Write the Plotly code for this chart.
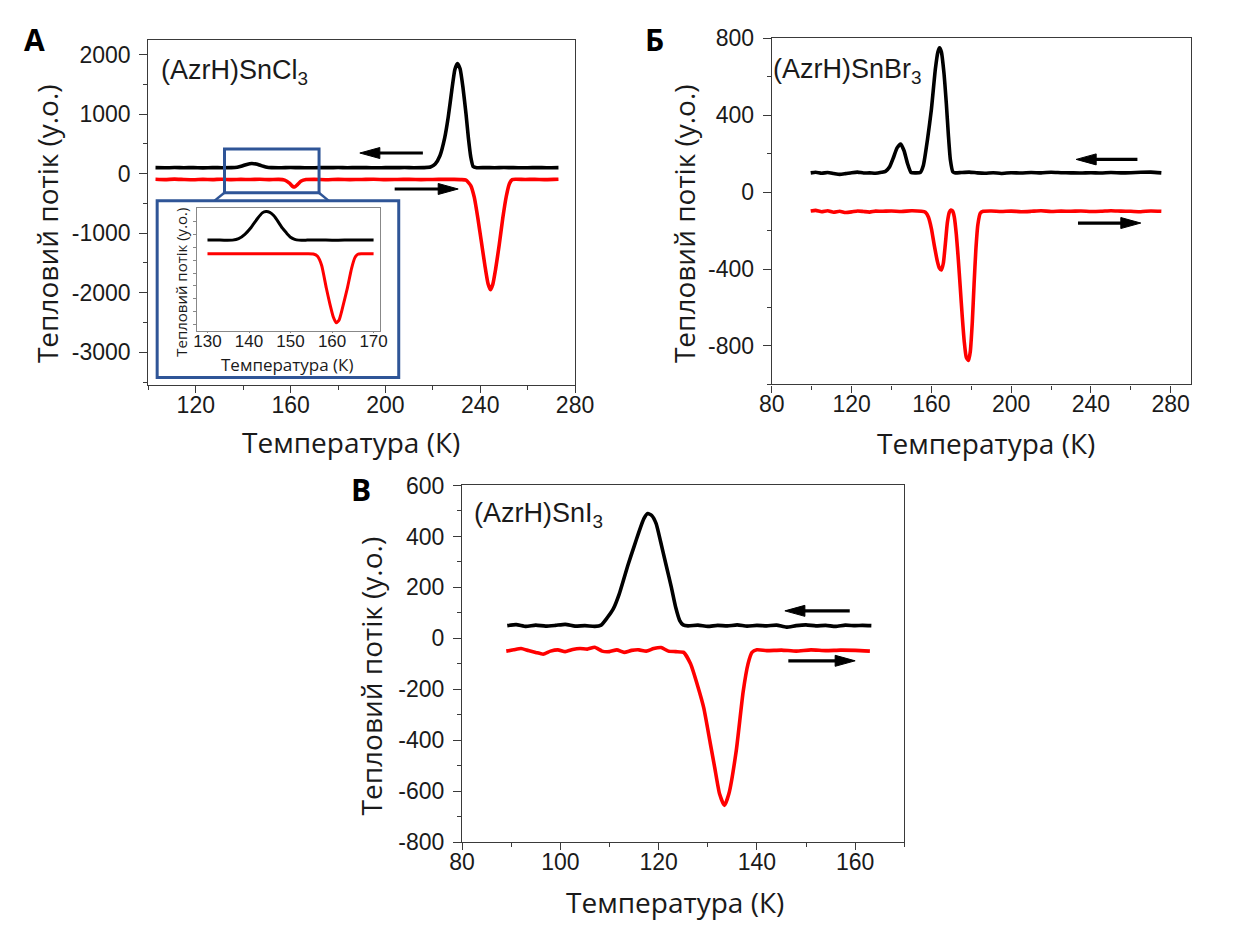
import plotly.graph_objects as go

W, H = 1235, 934

# ---------------- data ----------------
# Panel A: (AzrH)SnCl3
A_T_cool = [103,107,111,115,119,123,127,131,135,137.5,139.5,141.5,143.6,145.5,147.5,149.5,152,156,160,164,168,172,176,180,184,188,192,196,200,204,208,212,216,219,221,223,225,226.5,228,229.3,230.4,231.5,232.7,234,235,236,237,238.5,242,246,250,254,258,262,266,270,273]
A_Q_cool = [100,98,102,99,101,97,101,99,100,108,128,155,170,160,135,113,101,99,102,100,98,101,100,102,99,101,100,98,101,100,102,99,101,110,160,300,600,950,1400,1750,1850,1760,1450,1000,600,280,120,100,101,99,102,100,98,101,100,99,100]
A_T_heat = [103,107,111,115,119,123,127,131,135,139,143,147,151,155,157.5,159.5,160.7,161.7,163,164.5,166.5,170,175,180,185,190,195,200,205,210,215,220,225,229,232,234,236,237.5,239,240.5,242,243.3,244.3,245.3,246.5,248,249.5,251,252.3,253.5,255,259,263,267,271,273]
A_Q_heat = [-95,-100,-92,-98,-103,-96,-100,-94,-101,-97,-99,-95,-100,-97,-110,-160,-210,-225,-180,-125,-100,-97,-102,-96,-100,-98,-95,-101,-99,-96,-100,-98,-95,-97,-100,-110,-200,-400,-750,-1150,-1550,-1850,-1950,-1860,-1600,-1200,-750,-380,-170,-100,-95,-98,-96,-100,-97,-95]

# Inset of panel A (arbitrary units)
I_T_cool = [130,132,134,136,137.5,139,140.5,142,143.2,144.1,145,146,147,148,149,150,151,152,154,157,160,163,166,170]
I_Q_cool = [100,101,99,100,115,160,230,320,380,393,385,350,290,225,175,130,108,100,100,101,99,100,101,100]
I_T_heat = [130,133,136,139,142,145,148,151,154,155.5,156.5,157.5,158.6,159.5,160.3,161,161.7,162.5,163.7,164.7,165.5,166.2,167,170]
I_Q_heat = [-40,-40,-41,-40,-39,-40,-40,-41,-40,-42,-65,-160,-390,-560,-690,-750,-720,-600,-390,-190,-80,-45,-40,-40]

# Panel B: (AzrH)SnBr3
B_T_cool = [99.5,102,105,108,111,114,117,120,123,126,129,132,135,137,139,141,142.8,144.6,146.3,148,149.8,152,154.4,156,158,160,162,163.3,164.1,165,166.3,167.5,168.5,169.5,170.8,172,175,179,183,187,191,195,200,205,210,215,220,225,230,235,240,245,250,255,260,265,270,275.3]
B_Q_cool = [100,103,98,102,97,92,96,101,104,99,100,98,103,108,130,180,230,250,215,150,102,100,102,140,270,430,640,730,750,730,620,460,300,170,105,100,102,104,100,98,101,97,101,99,102,100,103,101,100,99,101,99,102,100,101,103,104,100]
B_T_heat = [99.5,102,105,108,111,114,117,120,123,126,129,132,135,140,145,150,155,157,158.5,160,161.5,163,164,165,166,167,168,169,169.8,170.6,171.5,172.5,173.5,174.5,175.5,176.5,177.5,178.6,179.5,180.5,181.4,182.3,183.3,184.5,186,190,195,200,205,210,215,220,225,230,235,240,245,250,255,260,265,270,275.3]
B_Q_heat = [-98,-95,-102,-97,-105,-100,-106,-103,-98,-101,-104,-99,-100,-98,-101,-97,-100,-105,-130,-190,-280,-360,-395,-405,-370,-270,-160,-105,-93,-98,-130,-220,-350,-500,-650,-780,-860,-876,-830,-680,-480,-300,-170,-110,-100,-98,-101,-99,-102,-100,-97,-101,-99,-100,-98,-101,-100,-97,-99,-100,-102,-98,-100]

# Panel C: (AzrH)SnI3
C_T_cool = [89.2,91,93,95,97,99,101,103,105,107,108.3,109.5,110.8,112,113.8,115,116,117,117.8,118.6,119.5,120.4,121.5,122.6,123.5,124.3,125,126,128,130,132,134,136,138,140,142,144,146,148,150,152,154,156,158,160,161.5,163.3]
C_Q_cool = [50,54,47,52,48,51,55,48,50,47,52,80,117,175,290,360,418,470,490,482,450,380,290,200,120,70,53,49,52,47,51,49,53,48,51,49,52,44,50,53,49,51,47,52,50,51,50]
C_T_heat = [89,90.5,92,93.5,95,96.5,98,99.5,101,102.5,104,105.5,107,108.5,110,111.5,113,114.5,116,117.5,119,120.5,122,123.5,125.1,126.5,128,129.2,130.5,131.4,132.4,133.4,134.3,135.8,137.2,138.2,139,140,142,145,148,151,154,157,160,163]
C_Q_heat = [-50,-45,-40,-48,-55,-62,-50,-45,-52,-44,-40,-42,-35,-50,-52,-45,-55,-47,-45,-50,-40,-36,-50,-52,-55,-100,-190,-274,-410,-505,-610,-656,-610,-441,-210,-100,-55,-45,-48,-46,-50,-45,-48,-46,-47,-50]

# tick labels
A_xticks = [120, 160, 200, 240, 280]
A_yticks = [-3000, -2000, -1000, 0, 1000, 2000]
B_xticks = [80, 120, 160, 200, 240, 280]
B_yticks = [-800, -400, 0, 400, 800]
C_xticks = [80, 100, 120, 140, 160]
C_yticks = [-800, -600, -400, -200, 0, 200, 400, 600]
I_xticks = [130, 140, 150, 160, 170]

# arrows: (tail_x, tip_x, y)
A_arrows = [(215.8, 189.2, 346), (203.9, 230.7, -258)]
B_arrows = [(263.3, 232.6, 170), (233.5, 265.0, -161)]
C_arrows = [(158.9, 145.7, 108), (146.4, 160.0, -88)]

XTITLE = "Температура (К)"
YTITLE = "Тепловий потік (у.о.)"

# ---------------- layout helpers ----------------
def fx(p):
    return p / W

def fy(p):
    return 1 - p / H

panels = {
    # name: (left, right, top, bottom) px, xrange, yrange
    "A": ((139, 577, 28, 383), [100, 280], [-3555, 2240]),
    "B": ((779, 1209, 26, 382), [80, 290], [-1000, 800]),
    "C": ((461, 915, 486, 853), [80, 170], [-800, 600]),
    "I": ((189, 377, 201, 327), [127.5, 171.6], [-833, 426]),
}

TICKFONT = dict(family="Liberation Sans, Arial, sans-serif", size=23, color="#1a1a1a")
AXCOL = "#3a3a3a"


def label(v):
    return str(v)


def make_axis(dom, rng, tickvals, minor_dtick, tick0, font=TICKFONT, ticklen=7, show=True, lc=AXCOL, lw=1.3,
              standoff=0):
    d = dict(
        domain=dom, range=rng, showline=True, linecolor=lc, linewidth=lw, mirror=True,
        ticks="outside", ticklen=ticklen, tickwidth=lw, tickcolor=lc,
        tickvals=tickvals, ticktext=[label(v) for v in tickvals],
        showgrid=False, zeroline=False, tickfont=font, showticklabels=show,
        fixedrange=True, ticklabelstandoff=standoff,
    )
    if minor_dtick:
        d["minor"] = dict(dtick=minor_dtick, tick0=tick0, ticks="outside", ticklen=4,
                          tickwidth=lw, tickcolor=lc, showgrid=False)
    return d


fig = go.Figure()

traces = [
    ("x", "y", A_T_cool, A_Q_cool, "black", 3.6),
    ("x", "y", A_T_heat, A_Q_heat, "#ff0000", 3.6),
    ("x2", "y2", B_T_cool, B_Q_cool, "black", 3.6),
    ("x2", "y2", B_T_heat, B_Q_heat, "#ff0000", 3.6),
    ("x3", "y3", C_T_cool, C_Q_cool, "black", 3.6),
    ("x3", "y3", C_T_heat, C_Q_heat, "#ff0000", 3.6),
    ("x4", "y4", I_T_cool, I_Q_cool, "black", 3.0),
    ("x4", "y4", I_T_heat, I_Q_heat, "#ff0000", 3.0),
]
for xa, ya, xs, ys, col, w in traces:
    assert len(xs) == len(ys)
    fig.add_trace(go.Scatter(x=xs, y=ys, xaxis=xa, yaxis=ya, mode="lines",
                             line=dict(color=col, width=w, shape="spline", smoothing=0.5),
                             showlegend=False, hoverinfo="skip"))

def dom(name):
    (l, r, t, b), xr, yr = panels[name]
    return [fx(l), fx(r)], [fy(b), fy(t)]

XS, YS = -8, 4
xa, ya = dom("A")
fig.update_layout(
    xaxis=make_axis(xa, panels["A"][1], A_xticks, 20, 0, standoff=XS) | dict(anchor="y"),
    yaxis=make_axis(ya, panels["A"][2], A_yticks, 500, 0, ticklen=8, standoff=YS) | dict(anchor="x"),
)
xa, ya = dom("B")
fig.update_layout(
    xaxis2=make_axis(xa, panels["B"][1], B_xticks, 20, 0, standoff=XS) | dict(anchor="y2"),
    yaxis2=make_axis(ya, panels["B"][2], B_yticks, 200, 0, ticklen=8, standoff=YS) | dict(anchor="x2"),
)
xa, ya = dom("C")
fig.update_layout(
    xaxis3=make_axis(xa, panels["C"][1], C_xticks, 10, 0, standoff=XS) | dict(anchor="y3"),
    yaxis3=make_axis(ya, panels["C"][2], C_yticks, 100, 0, ticklen=8, standoff=YS) | dict(anchor="x3"),
)
xa, ya = dom("I")
ifont = dict(family="Liberation Sans, Arial, sans-serif", size=17, color="#1a1a1a")
fig.update_layout(
    xaxis4=make_axis(xa, panels["I"][1], I_xticks, None, 0, font=ifont, ticklen=1, lc="#888", lw=1,
                     standoff=-6) | dict(anchor="y4"),
    yaxis4=dict(domain=ya, range=panels["I"][2], anchor="x4", showline=True, linecolor="#888", linewidth=1,
                mirror=True, ticks="outside", ticklen=3, tickcolor="#888", dtick=133, tick0=-1036,
                showticklabels=False, showgrid=False, zeroline=False, fixedrange=True),
)

shapes = []
annotations = []

# arrows
def px_per_unit(name):
    (l, r, t, b), xr, yr = panels[name]
    return (r - l) / (xr[1] - xr[0])

for name, xref, yref, arrows in (("A", "x", "y", A_arrows), ("B", "x2", "y2", B_arrows), ("C", "x3", "y3", C_arrows)):
    k = px_per_unit(name)
    for tail, tip, yv in arrows:
        sgn = 1 if tip > tail else -1
        line_end = tip - sgn * 12 / k
        shapes.append(dict(type="line", xref=xref, yref=yref, x0=tail, x1=line_end, y0=yv, y1=yv,
                           line=dict(color="black", width=3.2), layer="above"))
        L, h = 20, 5.5
        path = f"M0,0 L{-sgn*L},{h} L{-sgn*L},{-h} Z"
        shapes.append(dict(type="path", xref=xref, yref=yref, xsizemode="pixel", ysizemode="pixel",
                           xanchor=tip, yanchor=yv, path=path, fillcolor="black",
                           line=dict(color="black", width=1), layer="above"))

BLUE = "#2f5597"
# zoom rectangle on panel A (data coords)
shapes.append(dict(type="rect", xref="x", yref="y", x0=132.1, x1=172.0, y0=-323, y1=412,
                   line=dict(color=BLUE, width=3), layer="above"))
# inset frame (paper)
shapes.append(dict(type="rect", xref="paper", yref="paper", x0=fx(148), x1=fx(396), y0=fy(375), y1=fy(193),
                   line=dict(color=BLUE, width=3), layer="above"))
# connectors
shapes.append(dict(type="line", xref="paper", yref="paper", x0=fx(217), y0=fy(185), x1=fx(207), y1=fy(193),
                   line=dict(color=BLUE, width=2.5), layer="above"))
shapes.append(dict(type="line", xref="paper", yref="paper", x0=fx(314), y0=fy(185), x1=fx(324), y1=fy(193),
                   line=dict(color=BLUE, width=2.5), layer="above"))

TF = dict(family="Open Sans, sans-serif", size=28, color="#1a1a1a")
IF = dict(family="Open Sans, sans-serif", size=17, color="#1a1a1a")
LF = dict(family="Liberation Sans, Arial, sans-serif", size=27, color="#1a1a1a")
PF = dict(family="Open Sans, sans-serif", size=30, color="#000")

def ann(x, y, text, font, angle=0, xanchor="center", yanchor="middle"):
    annotations.append(dict(x=fx(x), y=fy(y), xref="paper", yref="paper", text=text, showarrow=False,
                            font=font, textangle=angle, xanchor=xanchor, yanchor=yanchor))

# axis titles
ann(347, 441, XTITLE, TF)
ann(35, 217, YTITLE, TF, angle=-90)
ann(999, 442, XTITLE, TF)
ann(689, 217, YTITLE, TF, angle=-90)
ann(680, 914, XTITLE, TF)
ann(368, 682, YTITLE, TF, angle=-90)
# inset titles
ann(282, 362, XTITLE, IF)
ann(173, 277, YTITLE, dict(IF, size=15), angle=-90)
# compound labels
ann(150, 61, "(AzrH)SnCl<sub>3</sub>", LF, xanchor="left")
ann(778, 60, "(AzrH)SnBr<sub>3</sub>", LF, xanchor="left")
ann(471, 516, "(AzrH)SnI<sub>3</sub>", LF, xanchor="left")
# panel letters
ann(22, 27, "<b>А</b>", PF)
ann(659, 27, "<b>Б</b>", PF)
ann(357, 490, "<b>В</b>", PF)

fig.update_layout(
    width=W, height=H, margin=dict(l=0, r=0, t=0, b=0),
    paper_bgcolor="white", plot_bgcolor="rgba(0,0,0,0)",
    shapes=shapes, annotations=annotations, showlegend=False,
)

fig.write_html("out.html", config=dict(displayModeBar=False))
